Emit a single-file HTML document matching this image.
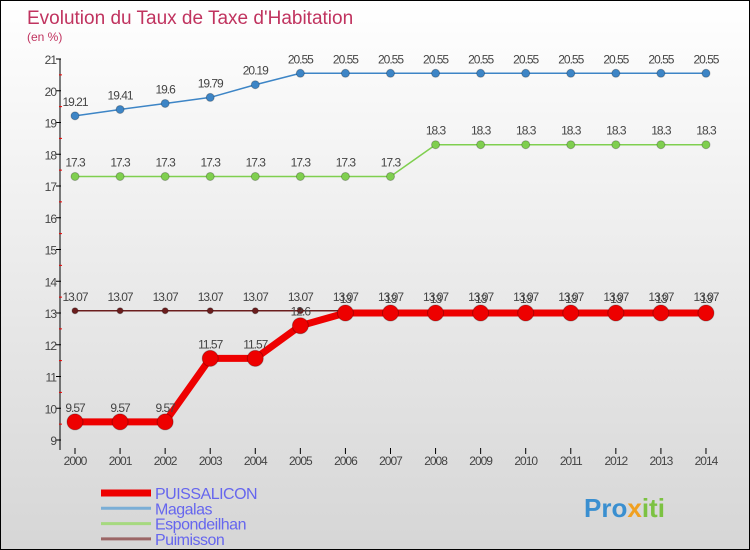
<!DOCTYPE html>
<html><head><meta charset="utf-8"><style>
body{margin:0}
#c{position:relative;width:748px;height:548px;border:1px solid #000;background:linear-gradient(#ffffff,#d6d6d6);overflow:hidden;font-family:"Liberation Sans",sans-serif}
</style></head><body>
<div id="c">
<svg id="s" width="748" height="548"></svg>
</div>
<script>
const years=[2000,2001,2002,2003,2004,2005,2006,2007,2008,2009,2010,2011,2012,2013,2014];
const puissalicon=[9.57,9.57,9.57,11.57,11.57,12.6,13,13,13,13,13,13,13,13,13];
const magalas=[19.21,19.41,19.6,19.79,20.19,20.55,20.55,20.55,20.55,20.55,20.55,20.55,20.55,20.55,20.55];
const espondeilhan=[17.3,17.3,17.3,17.3,17.3,17.3,17.3,17.3,18.3,18.3,18.3,18.3,18.3,18.3,18.3];
const puimisson=[13.07,13.07,13.07,13.07,13.07,13.07,13.07,13.07,13.07,13.07,13.07,13.07,13.07,13.07,13.07];
const yTicks=[9,10,11,12,13,14,15,16,17,18,19,20,21];
const NS="http://www.w3.org/2000/svg";
const s=document.getElementById('s');
const X=i=>74+i*45.07;
const Y=v=>439-(v-9)*31.75;
function el(t,a,p){const e=document.createElementNS(NS,t);for(const k in a)e.setAttribute(k,a[k]);(p||s).appendChild(e);return e;}
let t=el('text',{x:26,y:23,fill:'#c0335f','font-size':19});t.textContent="Evolution du Taux de Taxe d'Habitation";

t=el('text',{x:26,y:40,fill:'#c0335f','font-size':12});t.textContent="(en %)";

let a=el('line',{x1:59,y1:Y(21),x2:59,y2:Y(9)+10,stroke:'#000'});

yTicks.forEach(v=>{
 const l=el('line',{x1:55,x2:60,y1:Y(v),y2:Y(v),stroke:'#000'});
 
 if(v<21){el('line',{x1:58,x2:61,y1:Y(v+0.5),y2:Y(v+0.5),stroke:'#e00'});}
 const tx=el('text',{x:55,y:Y(v)+5,'text-anchor':'end','font-size':12,fill:'#444','letter-spacing':'-1'});tx.textContent=v;
 
});
years.forEach((y,i)=>{
 const l=el('line',{x1:X(i),x2:X(i),y1:Y(9)+8,y2:Y(9)+14,stroke:'#000'});
 
 const tx=el('text',{x:X(i),y:Y(9)+25,'text-anchor':'middle','font-size':12,fill:'#444','letter-spacing':'-1'});tx.textContent=y;
 
});
function series(data,color,w,r,name){
 const g=el('g',{});
 
 const p=el('polyline',{points:data.map((v,i)=>X(i)+','+Y(v)).join(' '),fill:'none',stroke:color,'stroke-width':w,'stroke-linejoin':'round'},g);
 
 data.forEach((v,i)=>{
  const c=el('circle',{cx:X(i),cy:Y(v),r:r,fill:color,stroke:'rgba(0,0,0,0.25)','stroke-width':1},g);
  
  const tx=el('text',{x:X(i),y:Y(v)-10,'text-anchor':'middle','font-size':12,fill:'#444','letter-spacing':'-1'},g);
  tx.textContent=String(v);
  
 });
}
series(magalas,'#3d85c6',1.5,4,'magalas');
series(espondeilhan,'#7fcf4f',1.5,4,'espondeilhan');
series(puimisson,'#6b1e1e',1.5,3,'puimisson');
series(puissalicon,'#ee0000',7,8,'puissalicon');
const legend=[['PUISSALICON','#ee0000',7],['Magalas','#7aaed6',3],['Espondeilhan','#a6d97f',3],['Puimisson','#9b6666',3]];
legend.forEach((d,i)=>{
 const y=492+i*15.3;
 const l=el('line',{x1:100,x2:150,y1:y,y2:y,stroke:d[1],'stroke-width':d[2]});
 
 const tx=el('text',{x:154,y:y+6,'font-size':16,fill:'#6666ee','letter-spacing':'-0.5'});tx.textContent=d[0];
 
});
const lg=el('text',{x:583,y:516,'font-size':26,'font-weight':'bold',fill:'#3a8fd0'});
lg.innerHTML='<tspan fill="#3a8fd0">Pro</tspan><tspan fill="#f0a020">x</tspan><tspan fill="#7cc242">iti</tspan>';

</script>
</body></html>
